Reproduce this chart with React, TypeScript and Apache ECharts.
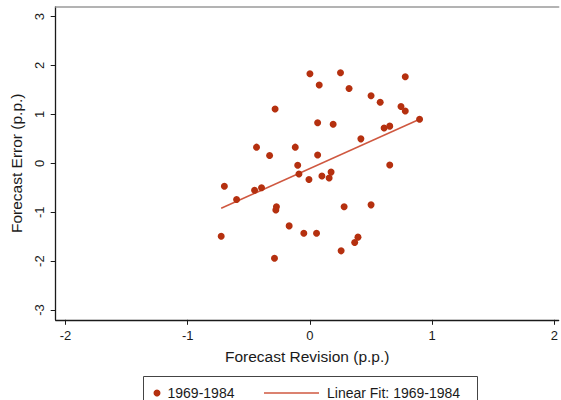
import React, { useEffect, useRef } from "react";
import * as echarts from "echarts";

const revision = [
  0.0, 0.25, 0.78, 0.076, 0.32, 0.5, 0.575, -0.285, 0.745, 0.78, 0.897,
  0.063, 0.19, 0.607, 0.653, 0.417, -0.437, -0.12, -0.33, 0.063, 0.653,
  -0.1, -0.09, -0.008, 0.098, 0.157, 0.173, -0.7, -0.453, -0.396, -0.6,
  -0.274, -0.279, 0.28, 0.5, -0.17, -0.05, 0.054, -0.726, 0.393, 0.366,
  0.255, -0.29,
];
const error = [
  1.83, 1.85, 1.77, 1.6, 1.53, 1.38, 1.25, 1.11, 1.16, 1.07, 0.9, 0.83,
  0.8, 0.72, 0.76, 0.5, 0.33, 0.33, 0.16, 0.17, -0.035, -0.04, -0.22,
  -0.33, -0.26, -0.3, -0.18, -0.47, -0.55, -0.5, -0.74, -0.89, -0.955,
  -0.89, -0.85, -1.28, -1.43, -1.43, -1.49, -1.51, -1.62, -1.79, -1.94,
];
const fitRevision = [-0.726, 0.897];
const fitError = [-0.92, 0.9];
const xTicks = [-2, -1, 0, 1, 2];
const yTicks = [-3, -2, -1, 0, 1, 2, 3];
const scatterName = "1969-1984";
const fitName = "Linear Fit: 1969-1984";

const FONT = "'Liberation Sans', Arial, Helvetica, sans-serif";

export default function App() {
  const ref = useRef<HTMLDivElement>(null);
  useEffect(() => {
    if (!ref.current) return;
    const chart = echarts.init(ref.current, undefined, { renderer: "svg" });
    const points = revision.map((x, i) => [x, error[i]]);
    const fit = fitRevision.map((x, i) => [x, fitError[i]]);
    chart.setOption({
      animation: false,
      backgroundColor: "#ffffff",
      textStyle: { fontFamily: FONT },
      grid: {
        left: 55.7,
        top: 6.8,
        bottom: 80.2,
        right: 0,
      },
      xAxis: [
        {
          type: "value",
          min: -2.08,
          max: 2.035,
          name: "Forecast Revision (p.p.)",
          nameLocation: "middle",
          nameGap: 29,
          nameTextStyle: { fontSize: 15.5, color: "#1a1a1a", fontFamily: FONT },
          axisLine: { show: true, onZero: false, lineStyle: { color: "#1a1a1a", width: 1.3 } },
          axisTick: {
            show: true,
            length: 5,
            customValues: xTicks,
            lineStyle: { color: "#1a1a1a", width: 1 },
          },
          axisLabel: {
            customValues: xTicks,
            margin: 9,
            fontSize: 13,
            color: "#1a1a1a",
            fontFamily: FONT,
          },
          splitLine: { show: false },
        },
        {
          type: "value",
          position: "top",
          min: -2.08,
          max: 2.035,
          axisLine: { show: true, onZero: false, lineStyle: { color: "#9a9a9a", width: 1.5 } },
          axisTick: { show: false },
          axisLabel: { show: false },
          splitLine: { show: false },
        },
      ],
      yAxis: {
        type: "value",
        min: -3.2,
        max: 3.2,
        name: "Forecast Error (p.p.)",
        nameLocation: "middle",
        nameRotate: 90,
        nameGap: 29,
        nameTextStyle: { fontSize: 15.5, color: "#1a1a1a", fontFamily: FONT },
        axisLine: { show: true, onZero: false, lineStyle: { color: "#1a1a1a", width: 1.3 } },
        axisTick: {
          show: true,
          length: 5,
          customValues: yTicks,
          lineStyle: { color: "#1a1a1a", width: 1 },
        },
        axisLabel: {
          customValues: yTicks,
          rotate: 90,
          margin: 10,
          fontSize: 13,
          color: "#1a1a1a",
          fontFamily: FONT,
        },
        splitLine: { show: false },
      },
      legend: [
        {
          data: [scatterName],
          left: 148.5,
          top: 381,
          icon: "circle",
          itemWidth: 7,
          itemHeight: 7,
          textStyle: {
            fontSize: 14,
            color: "#1a1a1a",
            fontFamily: FONT,
            padding: [0, 0, 0, 2],
            lineHeight: 14,
          },
        },
        {
          data: [fitName],
          left: 259,
          top: 381,
          icon: "rect",
          itemWidth: 55,
          itemHeight: 1.5,
          textStyle: {
            fontSize: 14,
            color: "#1a1a1a",
            fontFamily: FONT,
            padding: [0, 0, 0, 3],
            lineHeight: 14,
          },
        },
      ],
      graphic: [
        {
          type: "rect",
          shape: { x: 143.5, y: 376.5, width: 334, height: 40 },
          style: { fill: "none", stroke: "#444444", lineWidth: 1 },
          z: 100,
          silent: true,
        },
      ],
      series: [
        {
          name: fitName,
          type: "line",
          data: fit,
          showSymbol: false,
          symbol: "none",
          lineStyle: { color: "#cf5840", width: 1.5 },
          itemStyle: { color: "#cf5840" },
          z: 2,
        },
        {
          name: scatterName,
          type: "scatter",
          data: points,
          symbol: "circle",
          symbolSize: 7,
          itemStyle: { color: "#b5300f", opacity: 1 },
          z: 3,
        },
      ],
    });
    return () => chart.dispose();
  }, []);
  return (
    <div
      ref={ref}
      style={{ position: "absolute", left: 0, top: 0, width: 561, height: 400 }}
    />
  );
}
